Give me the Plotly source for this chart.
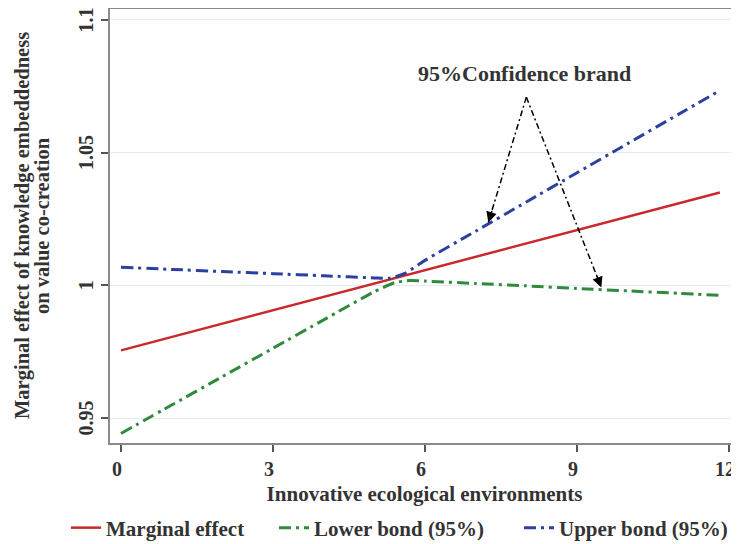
import plotly.graph_objects as go

# Data
x_marg = [0, 11.82]
y_marg = [0.9755, 1.035]

x_lower = [0, 1, 2, 3, 4, 5, 5.4, 5.7, 6, 7, 8, 9, 10, 11, 11.82]
y_lower = [0.9442, 0.9549, 0.9656, 0.9763, 0.9870, 0.9976, 1.0010, 1.0018,
           1.0016, 1.0007, 0.9998, 0.9988, 0.9979, 0.9970, 0.9962]

x_upper = [0, 1, 2, 3, 4, 5, 5.3, 5.6, 6, 7, 8, 9, 10, 11, 11.82]
y_upper = [1.0068, 1.0060, 1.0052, 1.0044, 1.0036, 1.0028, 1.0027, 1.0045,
           1.0094, 1.0204, 1.0314, 1.0424, 1.0534, 1.0644, 1.0734]

x_ticks = [0, 3, 6, 9, 12]
y_ticks = [0.95, 1, 1.05, 1.1]
y_ticklabels = ["0.95", "1", "1.05", "1.1"]

names = ["Marginal effect", "Lower bond (95%)", "Upper bond (95%)"]
x_title = "Innovative ecological environments"
y_title_lines = ["Marginal effect of knowledge embeddedness", "on value co-creation"]

# annotation geometry (data coords)
apex = (8.0, 1.0709)
tips = [(7.25, 1.0237), (9.48, 0.9992)]
label_pos = (7.96, 1.0799)
label_text = "95%Confidence brand"

FONT = "Liberation Serif"
DARK = "#333333"
BOLD = dict(family=FONT, color=DARK, weight="bold")

# the page body adds an 8px offset; figure is sized to fill the rest of the window
W, H = 731, 536
ML, MT, MR, MB = 102, 1, 0, 101
PW = W - ML - MR

fig = go.Figure()
fig.add_trace(go.Scatter(x=x_marg, y=y_marg, mode="lines", name=names[0], legend="legend",
                         showlegend=True, line=dict(color="#c9282d", width=2.5)))
fig.add_trace(go.Scatter(x=x_lower, y=y_lower, mode="lines", name=names[1], legend="legend2",
                         showlegend=True,
                         line=dict(color="#2f8a3e", width=3, dash="12px,5px,3px,5px", shape="spline", smoothing=0.6)))
fig.add_trace(go.Scatter(x=x_upper, y=y_upper, mode="lines", name=names[2], legend="legend3",
                         showlegend=True,
                         line=dict(color="#2b41a0", width=3, dash="12px,5px,3px,5px", shape="spline", smoothing=0.6)))

shapes = []
for tx, ty in tips:
    shapes.append(dict(type="line", xref="x", yref="y", x0=apex[0], y0=apex[1], x1=tx, y1=ty,
                       line=dict(color="black", width=1.5, dash="6px,3px,2px,3px")))

annotations = [
    dict(x=label_pos[0], y=label_pos[1], xref="x", yref="y", text=label_text, showarrow=False,
         font=dict(size=22, **BOLD)),
    dict(x=tips[0][0], y=tips[0][1], xref="x", yref="y", ax=4, ay=-13, showarrow=True,
         arrowhead=2, arrowsize=1.4, arrowwidth=1.5, arrowcolor="black", text=""),
    dict(x=tips[1][0], y=tips[1][1], xref="x", yref="y", ax=-5, ay=-13, showarrow=True,
         arrowhead=2, arrowsize=1.4, arrowwidth=1.5, arrowcolor="black", text=""),
]
# y-axis title, two lines
for line_text, px in zip(y_title_lines, [14, 34]):
    annotations.append(dict(x=(px - ML) / PW, y=0.5, xref="paper", yref="paper",
                            text=line_text, textangle=-90, showarrow=False,
                            xanchor="center", yanchor="middle", font=dict(size=20.5, **BOLD)))

leg_common = dict(visible=True, orientation="h", xref="container", yref="container", yanchor="middle",
                  y=1 - 520 / H, xanchor="left",
                  font=dict(size=21, **BOLD), bgcolor="rgba(0,0,0,0)")

fig.update_layout(
    width=W, height=H, showlegend=True,
    margin=dict(l=ML, r=MR, t=MT, b=MB, autoexpand=False),
    paper_bgcolor="white", plot_bgcolor="white",
    font=dict(size=20, **BOLD),
    shapes=shapes, annotations=annotations,
    legend=dict(x=58 / W, **leg_common),
    legend2=dict(x=266 / W, **leg_common),
    legend3=dict(x=511 / W, **leg_common),
    xaxis=dict(range=[-0.217, 12.197], tickvals=x_ticks, ticks="outside", ticklen=7,
               tickwidth=1.5, tickcolor="#555", showline=True, linecolor="#8a8a8a", linewidth=1.5,
               mirror=True, showgrid=False, zeroline=False, automargin=False,
               ticklabeloverflow="allow", ticklabelshift=-4,
               tickfont=dict(size=20, **BOLD),
               title=dict(text=x_title, standoff=8, font=dict(size=21, **BOLD))),
    yaxis=dict(range=[0.9406, 1.1041], tickvals=y_ticks, ticktext=y_ticklabels, tickangle=-90,
               ticks="outside", ticklen=7, tickwidth=1.5, tickcolor="#555",
               showline=True, linecolor="#8a8a8a", linewidth=1.5, showgrid=True,
               gridcolor="#e3ecef", gridwidth=1.2, zeroline=False, automargin=False,
               ticklabeloverflow="allow", ticklabelshift=3,
               tickfont=dict(size=20, **BOLD)),
)

fig.write_html("out.html")
